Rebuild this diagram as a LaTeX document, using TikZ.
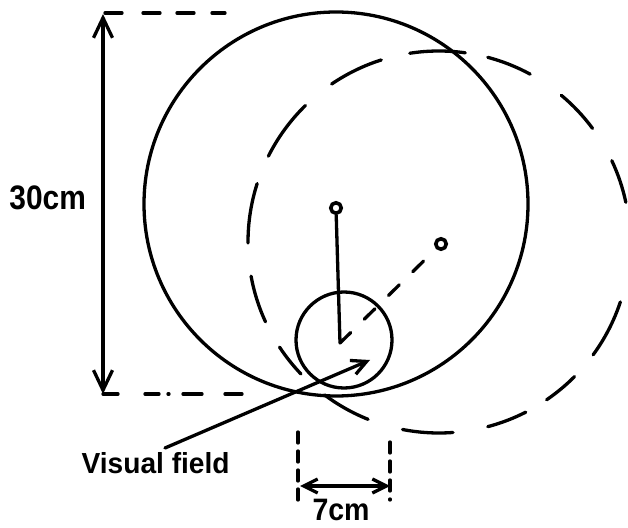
\documentclass[tikz,border=0pt]{standalone}
\usepackage{fontspec}
\setmainfont{Liberation Sans}
\usetikzlibrary{arrows.meta}
\begin{document}
\begin{tikzpicture}[x=1pt,y=1pt,line width=3.3pt,line cap=round,
  bigbarb/.style={{Straight Barb[length=20pt,width=19pt]}-{Straight Barb[length=20pt,width=19pt]}},
  smallbarb/.style={{Straight Barb[length=14pt,width=14pt]}-{Straight Barb[length=14pt,width=14pt]}},
  vfarrow/.style={-{Straight Barb[length=15pt,width=15pt]}},
  dotring/.style={circle,draw,line width=3.6pt,minimum size=10.5pt,inner sep=0pt},
  lbl/.style={inner sep=0pt,anchor=base west},
  bigfont/.style={font=\bfseries\fontsize{34}{34}\selectfont,xscale=0.88,transform shape},
  midfont/.style={font=\bfseries\fontsize{31}{31}\selectfont,xscale=0.92,transform shape},
  smallfont/.style={font=\bfseries\fontsize{29}{29}\selectfont,xscale=0.97,transform shape},
  vdash/.style={dash pattern=on 11pt off 8pt}]
\useasboundingbox (0,0) rectangle (628,527);

% centres
\coordinate (C1) at (336,323);
\coordinate (C2) at (439,285);
\coordinate (C3) at (344,187);
\coordinate (v) at (340,184);

% big solid circle
\draw (C1) circle[radius=192];
% small circle (visual field)
\draw (C3) circle[radius=48];
% dashed circle drawn as individual dashes
\foreach \a/\b in {107.6/124.2,134.4/153.3,162.2/180.3,190.3/204.7,213.4/223.7,
  233.2/248.2,259/274.2,284.8/297,304.3/315.2,323.8/341.7,12/25.2,36.5/50.2,
  61.5/75.2,82.1/98.8}
  \draw (C2) ++(\a:191) arc[start angle=\a,end angle=\b,radius=191];

% centre dots
\node[dotring] (d1) at (336,319) {};
\node[dotring] (d2) at (441,283) {};
\draw (d1) -- (v);
\draw[dash pattern=on 15pt off 19pt] (v) -- (d2);

% 30cm dimension
\coordinate (a1) at (103,513);
\coordinate (a2) at (103,133);
\coordinate (t1) at (228,514);
\coordinate (b1) at (245,133);
\draw[bigbarb] (a1) -- (a2);
\draw[dash pattern=on 17pt off 21pt on 17pt off 17pt on 17pt off 18pt on 13pt off 50pt] (105,514) -- (t1);
\draw[dash pattern=on 15pt off 27pt on 14pt off 9pt on 1pt off 14pt on 19pt off 23pt on 17pt off 50pt] (a2) -- (b1);
\node[lbl,bigfont] (t30) at (8,317) {30cm};

% visual field label
\node[lbl,smallfont] (tvf) at (80,54) {Visual field};
\coordinate (vfs) at (165,79);
\coordinate (vfe) at (370,167);
\draw[vfarrow] (vfs) -- (vfe);

% 7cm dimension
\coordinate (l1) at (298,95);
\coordinate (l2) at (298,25);
\coordinate (r1) at (390,85);
\coordinate (r2) at (390,27);
\draw[vdash] (l1) -- (l2);
\draw[vdash] (r1) -- (r2);
\coordinate (h1) at (300,41);
\coordinate (h2) at (390,41);
\draw[smallbarb] (h1) -- (h2);
\node[lbl,midfont] (t7) at (311,7) {7cm};
\end{tikzpicture}
\end{document}
